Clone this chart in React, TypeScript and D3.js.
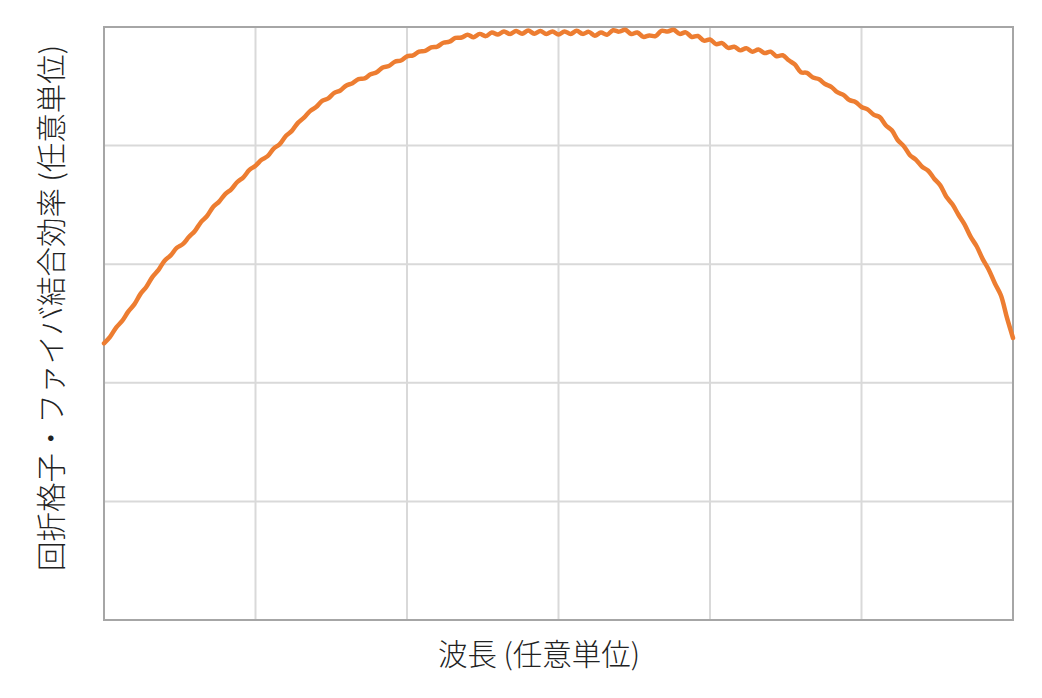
import React from "react";
import * as d3 from "d3";

// Wavelength axis (arbitrary units), 6 grid intervals
const xTicks = [0, 1, 2, 3, 4, 5, 6];
// Efficiency axis (arbitrary units), 5 grid intervals
const yTicks = [0, 1, 2, 3, 4, 5];
// sampling step along wavelength axis
const xStep = 0.04;
// grating-fiber coupling efficiency samples (arbitrary units)
const efficiency = [
  2.333, 2.388, 2.466, 2.522, 2.6, 2.661, 2.748, 2.81, 2.893, 2.952,
  3.03, 3.074, 3.138, 3.169, 3.229, 3.28, 3.355, 3.406, 3.482, 3.528,
  3.591, 3.631, 3.693, 3.733, 3.795, 3.83, 3.88, 3.911, 3.975, 4.013,
  4.081, 4.124, 4.192, 4.235, 4.291, 4.325, 4.377, 4.398, 4.444, 4.465,
  4.507, 4.526, 4.561, 4.566, 4.601, 4.618, 4.659, 4.671, 4.707, 4.718,
  4.753, 4.761, 4.793, 4.798, 4.828, 4.835, 4.867, 4.876, 4.908, 4.911,
  4.934, 4.914, 4.942, 4.923, 4.953, 4.936, 4.962, 4.941, 4.966, 4.944,
  4.97, 4.944, 4.966, 4.941, 4.963, 4.937, 4.963, 4.942, 4.968, 4.942,
  4.959, 4.927, 4.953, 4.935, 4.972, 4.961, 4.977, 4.941, 4.953, 4.917,
  4.929, 4.923, 4.968, 4.962, 4.977, 4.942, 4.955, 4.916, 4.924, 4.885,
  4.895, 4.856, 4.864, 4.824, 4.834, 4.803, 4.821, 4.792, 4.81, 4.78,
  4.792, 4.753, 4.762, 4.719, 4.684, 4.619, 4.613, 4.574, 4.559, 4.519,
  4.496, 4.45, 4.428, 4.384, 4.368, 4.326, 4.306, 4.261, 4.24, 4.172,
  4.129, 4.045, 3.994, 3.919, 3.88, 3.822, 3.788, 3.721, 3.665, 3.569,
  3.505, 3.417, 3.336, 3.232, 3.151, 3.043, 2.953, 2.839, 2.738, 2.549,
  2.378,
];
const xLabel = "波長 (任意単位)";
const yLabel = "回折格子・ファイバ結合効率 (任意単位)";

const W = 1042;
const H = 698;
const M = { left: 104, right: 1013, top: 27, bottom: 620 };
const FONT = "'Noto Sans CJK JP', 'Noto Sans', sans-serif";

export default function App() {
  const x = d3.scaleLinear().domain([0, 6]).range([M.left, M.right]);
  const y = d3.scaleLinear().domain([0, 5]).range([M.bottom, M.top]);
  const pts: [number, number][] = efficiency.map((v, i) => [i * xStep, v]);
  const line = d3
    .line<[number, number]>()
    .x((d) => x(d[0]))
    .y((d) => y(d[1]))
    .curve(d3.curveCatmullRom);

  return (
    <svg
      width={W}
      height={H}
      style={{ position: "absolute", left: 0, top: 0, background: "#fff" }}
    >
      <rect x={0} y={0} width={W} height={H} fill="#fff" />
      {xTicks.slice(1, -1).map((t) => (
        <line
          key={"gx" + t}
          x1={x(t)}
          x2={x(t)}
          y1={M.top}
          y2={M.bottom}
          stroke="#d9d9d9"
          strokeWidth={2}
        />
      ))}
      {yTicks.slice(1, -1).map((t) => (
        <line
          key={"gy" + t}
          x1={M.left}
          x2={M.right}
          y1={y(t)}
          y2={y(t)}
          stroke="#d9d9d9"
          strokeWidth={2}
        />
      ))}
      <rect
        x={M.left}
        y={M.top}
        width={M.right - M.left}
        height={M.bottom - M.top}
        fill="none"
        stroke="#a6a6a6"
        strokeWidth={2}
      />
      <path
        d={line(pts) || ""}
        fill="none"
        stroke="#ED7D31"
        strokeWidth={4.5}
        strokeLinejoin="round"
        strokeLinecap="round"
      />
      <text
        x={539}
        y={665}
        textAnchor="middle"
        fontFamily={FONT}
        fontSize={29.5}
        fontWeight={300}
        fill="#222"
      >
        {xLabel}
      </text>
      <text
        transform={`translate(62, 308) rotate(-90)`}
        textAnchor="middle"
        fontFamily={FONT}
        fontSize={29.5}
        fontWeight={300}
        fill="#222"
      >
        {yLabel}
      </text>
    </svg>
  );
}
